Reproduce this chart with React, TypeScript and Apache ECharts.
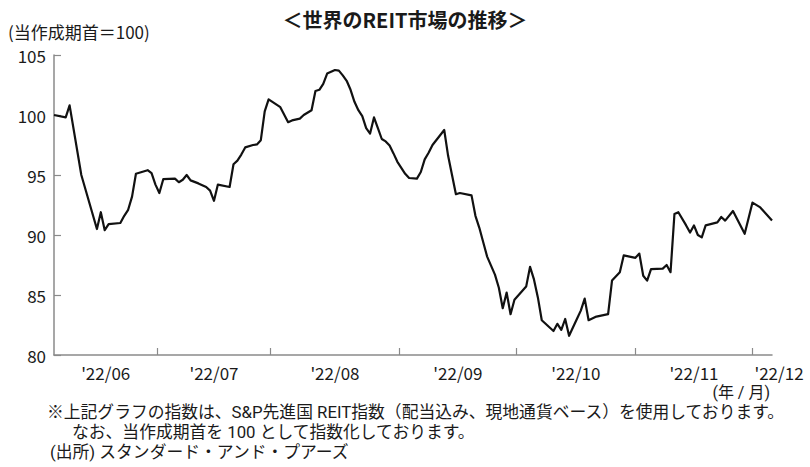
import React, { useEffect, useRef } from "react";
import * as echarts from "echarts";

// Days counted from the start of the period (calendar days), and index values (start = 100)
const days: number[] = [
  0, 3, 4, 7, 11, 12, 13, 14, 17, 18, 19, 20, 21, 24, 25, 26, 27, 28, 31, 32, 33, 34, 35, 37, 39, 40,
  41, 42, 45, 46, 47, 48, 49, 51, 52, 53, 54, 55, 58, 60, 61, 63, 64, 66, 67, 68, 69, 70, 71, 72, 73,
  74, 75, 76, 77, 78, 79, 80, 81, 82, 83, 84, 85, 86, 87, 88, 89, 90, 91, 93, 94, 95, 96, 97, 100, 101,
  102, 103, 104, 107, 108, 109, 110, 111, 112, 113, 114, 115, 116, 117, 118, 121, 122, 123, 124, 125,
  128, 129, 130, 131, 132, 134, 135, 136, 137, 139, 142, 143, 145, 146, 149, 150, 151, 152, 153, 156,
  157, 158, 159, 160, 162, 163, 164, 165, 166, 167, 170, 171, 172, 174, 177, 179, 181, 184,
];
const values: number[] = [
  100.0, 99.8, 100.8, 95.0, 90.5, 91.9, 90.4, 90.9, 91.0, 91.6, 92.1, 93.2, 95.1, 95.4, 95.15, 94.2,
  93.5, 94.65, 94.7, 94.4, 94.6, 95.0, 94.55, 94.3, 94.0, 93.7,
  92.85, 94.2, 94.0, 95.9, 96.2, 96.7, 97.3, 97.5, 97.55, 97.9, 100.3, 101.3, 100.65, 99.4, 99.55,
  99.7, 100.0, 100.4, 102.0, 102.1, 102.6, 103.45, 103.6, 103.75, 103.7,
  103.3, 102.85, 102.1, 101.1, 100.4, 99.9, 98.9, 98.45, 99.8, 98.9, 98.0, 97.8, 97.45, 96.8, 96.1,
  95.6, 95.1, 94.75, 94.7, 95.25, 96.3, 96.85, 97.5, 98.75, 96.6,
  95.0, 93.4, 93.5, 93.3, 91.6, 90.6, 89.4, 88.2, 87.45, 86.7, 85.6, 83.9, 85.2, 83.4, 84.6, 85.7,
  87.35, 86.3, 84.8, 82.9,
  82.0, 82.6, 82.1, 83.0, 81.6, 83.0, 83.7, 84.7, 82.9, 83.2, 83.4, 86.2, 86.9, 88.3, 88.1, 88.45,
  86.6, 86.2, 87.15, 87.2,
  87.5, 86.9, 91.75, 91.9, 90.8, 90.2, 90.8, 90.0, 89.8, 90.8, 91.05, 91.5, 91.2, 92.0, 90.1, 92.7,
  92.3, 91.2,
];

const lastDay = 184;
const monthStartDays: number[] = [26.5, 55.5, 88.5, 118.5, 149, 179];
const monthLabelDays: number[] = [13.25, 41, 72, 103.5, 133.75, 164, 184];
const monthLabels: string[] = ["'22/06", "'22/07", "'22/08", "'22/09", "'22/10", "'22/11", "'22/12"];

const yMin = 80;
const yMax = 105;
const yStep = 5;

const titleText = "＜世界のREIT市場の推移＞";
const unitText = "(当作成期首＝100)";
const xUnitText = "(年 / 月)";
const noteLines: string[] = [
  "※上記グラフの指数は、S&P先進国 REIT指数（配当込み、現地通貨ベース）を使用しております。",
  "なお、当作成期首を 100 として指数化しております。",
  "(出所) スタンダード・アンド・プアーズ",
];

const FONT = "'Noto Sans CJK JP', 'Noto Sans', sans-serif";
const NOTE_FONT = "Roboto, 'Noto Sans CJK JP', sans-serif";
const TEXT = "#1a1a1a";
const AXIS = "#8a8a8a";

export default function App() {
  const ref = useRef<HTMLDivElement>(null);

  useEffect(() => {
    document.body.style.margin = "0";
    if (!ref.current) return;
    const chart = echarts.init(ref.current, null, { renderer: "svg" });
    const seriesData = days.map((d, i) => [d, values[i]]);

    const noteStyle = (text: string) => ({
      text,
      fontFamily: NOTE_FONT,
      fontSize: 16.8,
      lineHeight: 18,
      fill: TEXT,
    });

    chart.setOption({
      animation: false,
      backgroundColor: "#ffffff",
      title: {
        text: titleText,
        left: "center",
        top: 3,
        textStyle: { fontFamily: FONT, fontSize: 20, fontWeight: "bold", color: TEXT, lineHeight: 22 },
      },
      grid: { left: 54, right: 38, top: 55, bottom: 112, containLabel: false },
      xAxis: {
        type: "value",
        min: 0,
        max: lastDay,
        axisLine: { show: true, lineStyle: { color: AXIS, width: 1.5 } },
        axisTick: {
          show: true,
          inside: true,
          length: 7,
          customValues: monthStartDays,
          lineStyle: { color: AXIS, width: 1.2 },
        },
        splitLine: { show: false },
        axisLabel: {
          customValues: monthLabelDays,
          margin: 8,
          fontFamily: FONT,
          fontSize: 17,
          lineHeight: 18,
          color: TEXT,
          formatter: (v: number) => {
            let best = 0;
            for (let i = 1; i < monthLabelDays.length; i++) {
              if (Math.abs(monthLabelDays[i] - v) < Math.abs(monthLabelDays[best] - v)) best = i;
            }
            if (best === monthLabelDays.length - 1) return "{d|" + monthLabels[best] + "}";
            return monthLabels[best];
          },
          rich: {
            d: { fontFamily: FONT, fontSize: 17, lineHeight: 18, color: TEXT, padding: [0, 0, 0, 14] },
          },
        },
      },
      yAxis: {
        type: "value",
        min: yMin,
        max: yMax,
        interval: yStep,
        axisLine: { show: true, lineStyle: { color: AXIS, width: 1.5 } },
        axisTick: { show: true, inside: true, length: 7, lineStyle: { color: AXIS, width: 1.2 } },
        splitLine: { show: false },
        axisLabel: { margin: 8, fontFamily: FONT, fontSize: 17, color: TEXT },
      },
      series: [
        {
          type: "line",
          data: seriesData,
          showSymbol: false,
          symbol: "none",
          lineStyle: { color: "#111111", width: 2.2, join: "round" },
        },
      ],
      graphic: [
        {
          type: "text",
          left: 8,
          top: 22,
          style: { text: unitText, fontFamily: FONT, fontSize: 17, lineHeight: 18, fill: TEXT },
        },
        {
          type: "text",
          right: 40,
          top: 384,
          style: { text: xUnitText, fontFamily: NOTE_FONT, fontSize: 16, lineHeight: 17, fill: TEXT },
        },
        { type: "text", left: 47, top: 403, style: noteStyle(noteLines[0]) },
        { type: "text", left: 72, top: 423, style: noteStyle(noteLines[1]) },
        { type: "text", left: 50, top: 443, style: noteStyle(noteLines[2]) },
      ],
    });

    return () => chart.dispose();
  }, []);

  return <div ref={ref} style={{ width: 810, height: 467 }} />;
}
